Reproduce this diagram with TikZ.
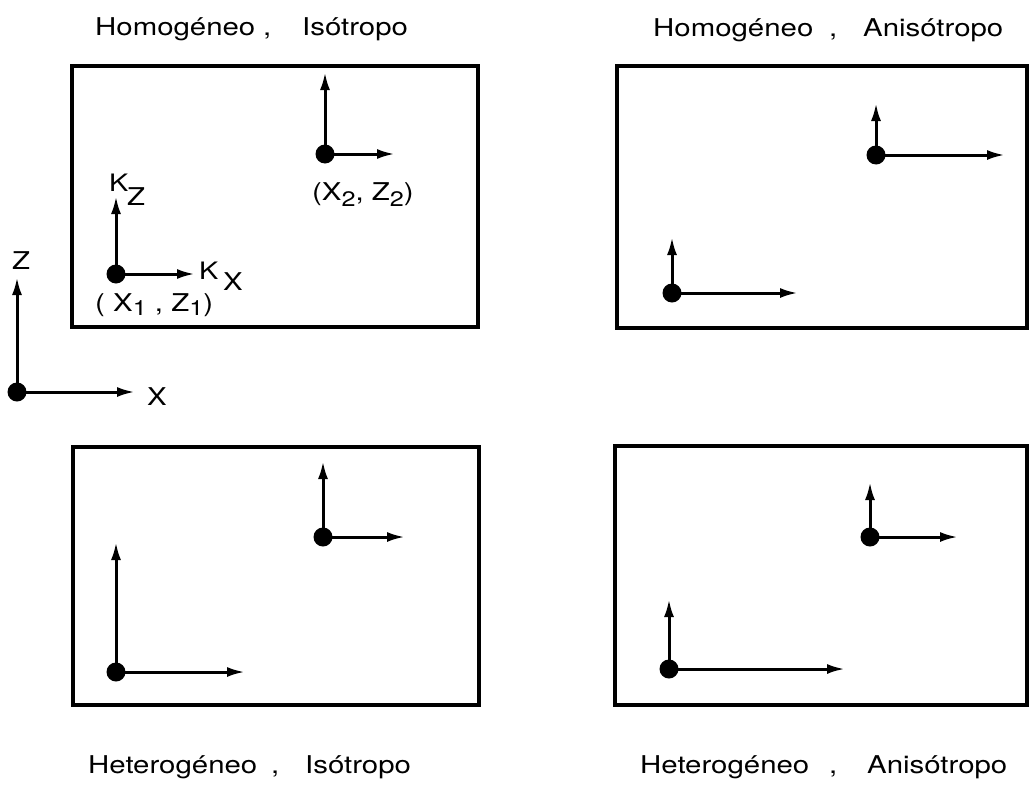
\documentclass[tikz,border=0pt]{standalone}
\usepackage{fontspec}
\setmainfont{TeX Gyre Heros}[FakeStretch=1.2]
\usetikzlibrary{arrows.meta}
\newcommand\lowsub[2][-6pt]{\raisebox{#1}{\fontsize{21}{21}\selectfont #2}}
\tikzset{
  dot/.style={circle,fill=black,inner sep=0pt,minimum size=19pt},
  vec/.style={line width=3pt,-{Latex[length=18pt,width=10pt]}},
  frame/.style={draw,line width=3.2pt},
  lbl/.style={inner sep=0pt,anchor=base west,font=\fontsize{24.5}{24.5}\selectfont},
  klbl/.style={inner sep=0pt,anchor=base west,font=\fontsize{24}{24}\selectfont},
}
\begin{document}
\begin{tikzpicture}[x=1pt,y=-1pt]
\useasboundingbox (0,0) rectangle (1030,787);
% frames
\draw[frame] (72,66) rectangle (478,327);
\draw[frame] (617,66) rectangle (1027,328);
\draw[frame] (73,447) rectangle (479,705);
\draw[frame] (615,446) rectangle (1027,705);
% titles
\node[lbl] (t1a) at (95,35) {Homogéneo};
\node[lbl] (t1b) at (263,35) {,};
\node[lbl] (t1c) at (302,35) {Isótropo};
\node[lbl] (t2a) at (653,36) {Homogéneo};
\node[lbl] (t2b) at (829,36) {,};
\node[lbl] (t2c) at (863,36) {Anisótropo};
\node[lbl] (t3a) at (88,773) {Heterogéneo};
\node[lbl] (t3b) at (271,773) {,};
\node[lbl] (t3c) at (305,773) {Isótropo};
\node[lbl] (t4a) at (640,773) {Heterogéneo};
\node[lbl] (t4b) at (829,773) {,};
\node[lbl] (t4c) at (867,773) {Anisótropo};
% global axes
\node[dot] (o) at (17,392) {};
\coordinate (oz) at (17,277);
\coordinate (ox) at (135,392);
\draw[vec] (o.center) -- (oz);
\draw[vec] (o.center) -- (ox);
\node[lbl] (lz) at (12,269) {Z};
\node[lbl] (lx) at (147,405) {X};
% box 1
\node[dot] (a1) at (116,274) {};
\coordinate (a1z) at (116,196);
\coordinate (a1x) at (195,274);
\draw[vec] (a1.center) -- (a1z);
\draw[vec] (a1.center) -- (a1x);
\node[dot] (a2) at (325,154) {};
\coordinate (a2z) at (325,72);
\coordinate (a2x) at (395,154);
\draw[vec] (a2.center) -- (a2z);
\draw[vec] (a2.center) -- (a2x);
\node[klbl] (kz1) at (109,191) {K};
\node[lbl] (kz2) at (127,205) {Z};
\node[klbl] (kx1) at (199,279) {K};
\node[lbl] (kx2) at (223,290) {X};
\node[lbl] (p1) at (95,311) {( X\lowsub[-4pt]{1} , Z\lowsub[-4pt]{1})};
\node[lbl] (p2) at (312,200) {(X\lowsub{2}, Z\lowsub{2})};
% box 2
\node[dot] (b1) at (672,293) {};
\coordinate (b1z) at (672,237);
\coordinate (b1x) at (798,293);
\draw[vec] (b1.center) -- (b1z);
\draw[vec] (b1.center) -- (b1x);
\node[dot] (b2) at (876,155) {};
\coordinate (b2z) at (876,103);
\coordinate (b2x) at (1005,155);
\draw[vec] (b2.center) -- (b2z);
\draw[vec] (b2.center) -- (b2x);
% box 3
\node[dot] (c1) at (116,672) {};
\coordinate (c1z) at (116,542);
\coordinate (c1x) at (245,672);
\draw[vec] (c1.center) -- (c1z);
\draw[vec] (c1.center) -- (c1x);
\node[dot] (c2) at (323,537) {};
\coordinate (c2z) at (323,461);
\coordinate (c2x) at (405,537);
\draw[vec] (c2.center) -- (c2z);
\draw[vec] (c2.center) -- (c2x);
% box 4
\node[dot] (d1) at (669,669) {};
\coordinate (d1z) at (669,599);
\coordinate (d1x) at (845,669);
\draw[vec] (d1.center) -- (d1z);
\draw[vec] (d1.center) -- (d1x);
\node[dot] (d2) at (870,537) {};
\coordinate (d2z) at (870,482);
\coordinate (d2x) at (958,537);
\draw[vec] (d2.center) -- (d2z);
\draw[vec] (d2.center) -- (d2x);
\end{tikzpicture}
\end{document}
